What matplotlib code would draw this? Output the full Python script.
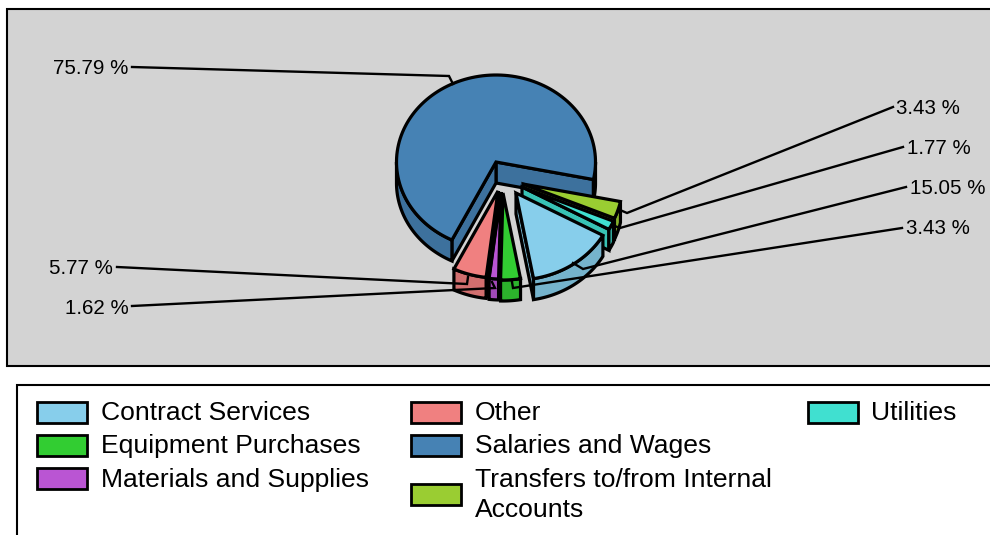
import numpy as np
import matplotlib
matplotlib.use("Agg")
import matplotlib.pyplot as plt
from matplotlib.patches import Polygon, Rectangle

plt.rcParams["font.family"] = ["Liberation Sans", "DejaVu Sans"]

# =========================
# DATA
# =========================
slice_names = ["Salaries and Wages", "Transfers to/from Internal Accounts", "Utilities",
               "Contract Services", "Equipment Purchases", "Materials and Supplies", "Other"]
slice_values = [75.79, 3.43, 1.77, 15.05, 3.43, 1.62, 5.77]
slice_colors = ["#4682B4", "#9ACD32", "#40E0D0", "#87CEEB", "#32CD32", "#BA55D3", "#F08080"]

# =========================
# LAYOUT (pixels of the 990x535 picture)
# =========================
apex_points = [(496, 162), (523, 184), (522, 187), (516, 193), (503, 193), (501, 192), (498, 191)]
RX = 99.5
RY = 87
DEPTH = 21
START_ANGLE = 243.7

# leader line per slice, first point next to the label
leaders = [
    [(132, 67), (449, 76), (453, 84)],
    [(893, 107), (627, 213), (620, 210)],
    [(903, 147), (620, 228), (612, 225)],
    [(906, 187), (583, 269), (573, 263)],
    [(902, 228), (513, 288), (512, 282)],
    [(132, 306), (495, 288), (492, 282)],
    [(117, 267), (467, 284), (468, 277)],
]
label_xy = [(128, 69), (896, 109), (907, 149), (910, 188), (906, 229), (129, 308), (113, 268)]
label_ha = ["right", "left", "left", "left", "left", "right", "right"]

# legend entries: name, swatch x, swatch y, text x, text y
legend_rows = [
    ("Contract Services", 37, 402, 101, 413),
    ("Equipment Purchases", 37, 435, 101, 446),
    ("Materials and Supplies", 37, 468, 101, 480),
    ("Other", 411, 402, 475, 413),
    ("Salaries and Wages", 411, 435, 475, 446),
    ("Transfers to/from Internal\nAccounts", 411, 484, 475, 495),
    ("Utilities", 808, 402, 871, 413),
]


def darker(color, factor=0.87):
    rgb = np.array(matplotlib.colors.to_rgb(color))
    return tuple(rgb * factor)


def rim(apex, angle):
    a = np.radians(angle)
    return apex[0] + RX * np.cos(a), apex[1] - RY * np.sin(a)


def face(ax, points, color):
    ax.add_patch(Polygon(points, closed=True, facecolor=color, edgecolor="black",
                         linewidth=2.3, joinstyle="miter"))


def draw_slice(ax, apex, a_low, a_high, color):
    side = darker(color)
    top_arc = [rim(apex, a) for a in np.linspace(a_low, a_high, 120)]

    # cut faces, only the ones turned to the viewer
    for a, visible in ((a_low, np.cos(np.radians(a_low)) > 0), (a_high, np.cos(np.radians(a_high)) < 0)):
        if visible:
            x, y = rim(apex, a)
            face(ax, [apex, (x, y), (x, y + DEPTH), (apex[0], apex[1] + DEPTH)], side)

    # outer wall, front half of the rim only
    start = a_low
    while start < a_high:
        turn = np.floor(start / 360) * 360
        lo, hi = max(start, turn + 180), min(a_high, turn + 360)
        if lo < hi:
            arc = [rim(apex, a) for a in np.linspace(lo, hi, 80)]
            low_arc = [(x, y + DEPTH) for x, y in arc[::-1]]
            face(ax, arc + low_arc, side)
        start = turn + 360

    face(ax, [apex] + top_arc, color)


fig = plt.figure(figsize=(9.9, 5.35), dpi=100)
ax = fig.add_axes([0, 0, 1, 1])
ax.set_xlim(0, 990)
ax.set_ylim(535, 0)
ax.axis("off")

# =========================
# PANELS
# =========================
ax.add_patch(Rectangle((7, 9), 1000, 357, facecolor="#D3D3D3", edgecolor="black", linewidth=1.5))
ax.add_patch(Rectangle((17, 385), 1000, 200, facecolor="white", edgecolor="black", linewidth=1.5))

# =========================
# PIE
# =========================
total = sum(slice_values)
angle = START_ANGLE
for value, apex, color in zip(slice_values, apex_points, slice_colors):
    sweep = value / total * 360
    draw_slice(ax, apex, angle - sweep, angle, color)
    angle -= sweep

for value, line, xy, ha in zip(slice_values, leaders, label_xy, label_ha):
    xs, ys = zip(*line)
    ax.plot(xs, ys, color="black", linewidth=1.7, solid_joinstyle="miter")
    ax.text(xy[0], xy[1], f"{value:.2f} %", ha=ha, va="center", fontsize=14.8, color="black")

# =========================
# LEGEND
# =========================
color_by_name = dict(zip(slice_names, slice_colors))
for name, sx, sy, tx, ty in legend_rows:
    key = name.replace("\n", " ")
    ax.add_patch(Rectangle((sx, sy), 50, 21, facecolor=color_by_name[key], edgecolor="black", linewidth=2.0))
    ax.text(tx, ty, name, ha="left", va="center", fontsize=19.05, color="black", linespacing=1.33)

fig.savefig("out.png", dpi=100)
